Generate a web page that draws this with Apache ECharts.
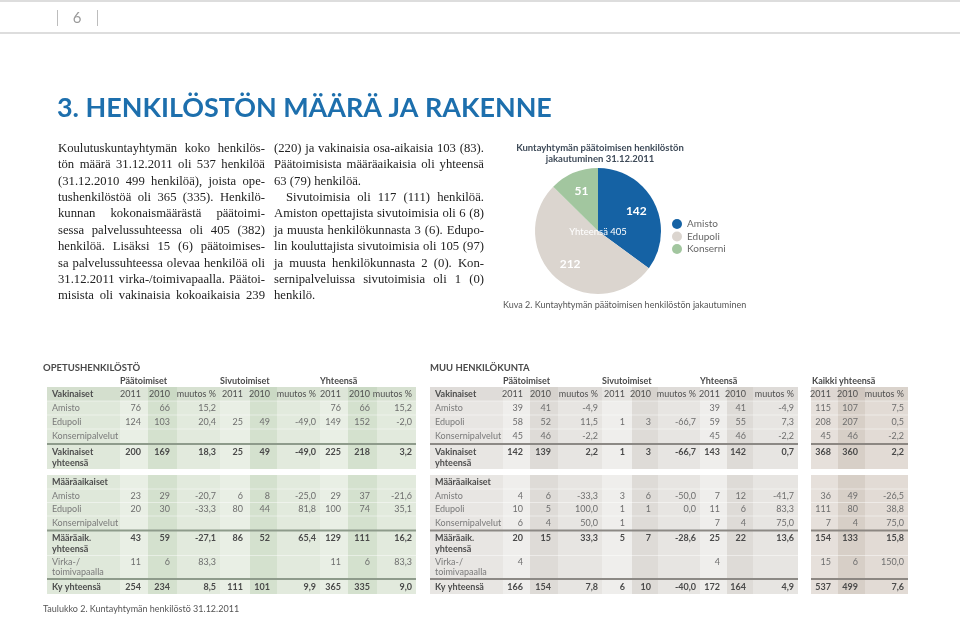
<!DOCTYPE html>
<html><head><meta charset="utf-8">
<script src="https://cdn.jsdelivr.net/npm/echarts@6/dist/echarts.min.js"></script>
<style>html,body{margin:0;padding:0;background:#fff}#c{width:960px;height:617px}</style>
</head><body><div id="c"></div>
<script>
// ---------- DATA ----------
const pieNames = ['Amisto', 'Edupoli', 'Konserni'];
const pieValues = [142, 212, 51];
const pieTotalText = 'Yhteensä 405';
const pieTitle = ['Kuntayhtymän päätoimisen henkilöstön', 'jakautuminen 31.12.2011'];
const pieCaption = 'Kuva 2. Kuntayhtymän päätoimisen henkilöstön jakautuminen';
const tableCaption = 'Taulukko 2. Kuntayhtymän henkilöstö 31.12.2011';
const pageTitle = '3. HENKILÖSTÖN MÄÄRÄ JA RAKENNE';
const pageNumber = '6';

const groupLabels = ['Päätoimiset', 'Sivutoimiset', 'Yhteensä'];
const allLabel = 'Kaikki yhteensä';
const yearHeader = ['2011', '2010', 'muutos %', '2011', '2010', 'muutos %', '2011', '2010', 'muutos %'];
const yearHeader3 = ['2011', '2010', 'muutos %'];

const opetusVak = [
  ['Vakinaiset'].concat(yearHeader),
  ['Amisto', '76', '66', '15,2', '', '', '', '76', '66', '15,2'],
  ['Edupoli', '124', '103', '20,4', '25', '49', '-49,0', '149', '152', '-2,0'],
  ['Konsernipalvelut', '', '', '', '', '', '', '', '', ''],
  ['Vakinaiset\nyhteensä', '200', '169', '18,3', '25', '49', '-49,0', '225', '218', '3,2']
];
const opetusMaara = [
  ['Määräaikaiset', '', '', '', '', '', '', '', '', ''],
  ['Amisto', '23', '29', '-20,7', '6', '8', '-25,0', '29', '37', '-21,6'],
  ['Edupoli', '20', '30', '-33,3', '80', '44', '81,8', '100', '74', '35,1'],
  ['Konsernipalvelut', '', '', '', '', '', '', '', '', ''],
  ['Määräaik.\nyhteensä', '43', '59', '-27,1', '86', '52', '65,4', '129', '111', '16,2'],
  ['Virka-/\ntoimivapaalla', '11', '6', '83,3', '', '', '', '11', '6', '83,3'],
  ['Ky yhteensä', '254', '234', '8,5', '111', '101', '9,9', '365', '335', '9,0']
];
const muuVak = [
  ['Vakinaiset'].concat(yearHeader),
  ['Amisto', '39', '41', '-4,9', '', '', '', '39', '41', '-4,9'],
  ['Edupoli', '58', '52', '11,5', '1', '3', '-66,7', '59', '55', '7,3'],
  ['Konsernipalvelut', '45', '46', '-2,2', '', '', '', '45', '46', '-2,2'],
  ['Vakinaiset\nyhteensä', '142', '139', '2,2', '1', '3', '-66,7', '143', '142', '0,7']
];
const muuMaara = [
  ['Määräaikaiset', '', '', '', '', '', '', '', '', ''],
  ['Amisto', '4', '6', '-33,3', '3', '6', '-50,0', '7', '12', '-41,7'],
  ['Edupoli', '10', '5', '100,0', '1', '1', '0,0', '11', '6', '83,3'],
  ['Konsernipalvelut', '6', '4', '50,0', '1', '', '', '7', '4', '75,0'],
  ['Määräaik.\nyhteensä', '20', '15', '33,3', '5', '7', '-28,6', '25', '22', '13,6'],
  ['Virka-/\ntoimivapaalla', '4', '', '', '', '', '', '4', '', ''],
  ['Ky yhteensä', '166', '154', '7,8', '6', '10', '-40,0', '172', '164', '4,9']
];
const kaikkiVak = [
  yearHeader3,
  ['115', '107', '7,5'],
  ['208', '207', '0,5'],
  ['45', '46', '-2,2'],
  ['368', '360', '2,2']
];
const kaikkiMaara = [
  ['', '', ''],
  ['36', '49', '-26,5'],
  ['111', '80', '38,8'],
  ['7', '4', '75,0'],
  ['154', '133', '15,8'],
  ['15', '6', '150,0'],
  ['537', '499', '7,6']
];

const bodyLeft = [
  {t: 'Koulutuskuntayhtymän koko henkilös-', j: true},
  {t: 'tön määrä 31.12.2011 oli 537 henkilöä', j: true},
  {t: '(31.12.2010 499 henkilöä), joista ope-', j: true},
  {t: 'tushenkilöstöä oli 365 (335). Henkilö-', j: true},
  {t: 'kunnan kokonaismäärästä päätoimi-', j: true},
  {t: 'sessa palvelussuhteessa oli 405 (382)', j: true},
  {t: 'henkilöä. Lisäksi 15 (6) päätoimises-', j: true},
  {t: 'sa palvelussuhteessa olevaa henkilöä oli', j: true},
  {t: '31.12.2011 virka-/toimivapaalla. Päätoi-', j: true},
  {t: 'misista oli vakinaisia kokoaikaisia 239', j: true}
];
const bodyRight = [
  {t: '(220) ja vakinaisia osa-aikaisia 103 (83).', j: true},
  {t: 'Päätoimisista määräaikaisia oli yhteensä', j: true},
  {t: '63 (79) henkilöä.', j: false},
  {t: 'Sivutoimisia oli 117 (111) henkilöä.', j: true, indent: 12},
  {t: 'Amiston opettajista sivutoimisia oli 6 (8)', j: true},
  {t: 'ja muusta henkilökunnasta 3 (6). Edupo-', j: true},
  {t: 'lin kouluttajista sivutoimisia oli 105 (97)', j: true},
  {t: 'ja muusta henkilökunnasta 2 (0). Kon-', j: true},
  {t: 'sernipalveluissa sivutoimisia oli 1 (0)', j: true},
  {t: 'henkilö.', j: false}
];

// ---------- HELPERS ----------
const ctx = document.createElement('canvas').getContext('2d');
function measure(t, font) { ctx.font = font; return ctx.measureText(t).width; }
const els = [];
function txt(x, y, text, font, fill, align, z) {
  els.push({type: 'text', x: x, y: y, silent: true, z: z || 10,
    style: {text: text, font: font, fill: fill, textAlign: align || 'left', textVerticalAlign: 'middle'}});
}
function rect(x, y, w, h, fill, z) {
  els.push({type: 'rect', silent: true, z: z || 1, shape: {x: x, y: y, width: w, height: h}, style: {fill: fill}});
}
function line(x1, y1, x2, y2, stroke, lw, z) {
  els.push({type: 'line', silent: true, z: z || 5, shape: {x1: x1, y1: y1, x2: x2, y2: y2}, style: {stroke: stroke, lineWidth: lw}});
}

// ---------- PAGE HEADER ----------
line(0, 1, 960, 1, '#d2d2d2', 1.5);
line(0, 33, 960, 33, '#d2d2d2', 1.5);
line(57.5, 10, 57.5, 26, '#bdbdbd', 1);
line(97.5, 10, 97.5, 26, '#bdbdbd', 1);
txt(77, 18.5, pageNumber, '15px Lato', '#9a9a9a', 'center');

// title: fit to width
(function () {
  const base = 29;
  const w = measure(pageTitle, 'bold ' + base + 'px Lato');
  const fs = Math.min(30, base * 495 / w);
  txt(57, 108, pageTitle, 'bold ' + fs.toFixed(2) + 'px Lato', '#1d6fad', 'left');
})();

// ---------- BODY TEXT ----------
(function () {
  const fam = '"Liberation Serif"';
  const colW = [207, 210];
  let fs = 13.5;
  [[bodyLeft, colW[0]], [bodyRight, colW[1]]].forEach(function (pair) {
    pair[0].forEach(function (ln) {
      if (!ln.j) return;
      const w = measure(ln.t, fs + 'px ' + fam) + (ln.indent || 0);
      if (w > pair[1]) fs = Math.min(fs, 13.5 * pair[1] / (w * 13.5 / fs) );
    });
  });
  fs = Math.floor(fs * 10) / 10;
  const font = fs + 'px ' + fam;
  function layoutColumn(lines, x0, w, y0, lh) {
    const sp = measure(' ', font);
    lines.forEach(function (ln, i) {
      const words = ln.t.split(' ');
      const ind = ln.indent || 0;
      const widths = words.map(function (wd) { return measure(wd, font); });
      const sum = widths.reduce(function (a, b) { return a + b; }, 0);
      const gap = (ln.j && words.length > 1) ? (w - ind - sum) / (words.length - 1) : sp;
      let x = x0 + ind;
      words.forEach(function (wd, k) {
        txt(x, y0 + i * lh, wd, font, '#222222', 'left');
        x += widths[k] + gap;
      });
    });
  }
  layoutColumn(bodyLeft, 58, colW[0], 148.5, 16.4);
  layoutColumn(bodyRight, 274, colW[1], 148.5, 16.4);
})();

// ---------- PIE TEXTS ----------
const pieCenter = [598, 231];
txt(600, 148, pieTitle[0], 'bold 9.5px Lato', '#3f4b59', 'center');
txt(600, 158.5, pieTitle[1], 'bold 9.5px Lato', '#3f4b59', 'center');
txt(503, 305, pieCaption, '9px Lato', '#555', 'left');
txt(pieCenter[0], pieCenter[1] + 1, pieTotalText, '9.5px Lato', '#ffffff', 'center', 20);

// ---------- TABLES ----------
const T1 = [47, 120, 148, 177, 220, 250, 277, 320, 348, 377, 416];
const T2 = [430, 503, 530, 558, 602, 632, 658, 700, 727, 753, 798];
const T3 = [811, 838, 865, 908];
const upperLayout = [[387, 401, [394]], [401, 415, [408]], [415, 429, [422]], [429, 443, [436]], [445, 469, [452, 463]]];
const upperSeps = [444];
const lowerLayout = [[475, 489, [482.5]], [489, 502.5, [496]], [502.5, 516, [509.5]], [516, 529.5, [523]],
  [531.5, 555.5, [538.5, 549.5]], [555.5, 578, [562, 572.5]], [580, 594, [587]]];
const lowerSeps = [530.5, 579];

const green = {lab: '#dfe8da', a: '#e9efe5', b: '#d4e1ce', c: '#e2eadd', head: 'rgba(120,150,110,0.10)', sep: '#8e9b8b'};
const grey = {lab: '#e8e6e3', a: '#efeeec', b: '#dedbd7', c: '#e7e5e2', head: 'rgba(110,100,90,0.07)', sep: '#8c8985'};
const beige = {lab: '#e4ded9', a: '#e6e0db', b: '#d7cfc7', c: '#e2dbd5', head: 'rgba(110,90,70,0.06)', sep: '#8c8782'};

const FN = '9px Lato', FB = 'bold 9px Lato';
function drawBlock(cols, pal, layout, seps, rows, hasLabel, boldRows, headerRow) {
  const top = layout[0][0], bot = layout[layout.length - 1][1];
  const fills = hasLabel ? [pal.lab] : [];
  const n = cols.length - 1 - (hasLabel ? 1 : 0);
  for (let k = 0; k < n; k++) fills.push([pal.a, pal.b, pal.c][k % 3]);
  for (let i = 0; i < cols.length - 1; i++) rect(cols[i], top, cols[i + 1] - cols[i], bot - top, fills[i], 1);
  if (headerRow) rect(cols[0], layout[0][0], cols[cols.length - 1] - cols[0], layout[0][1] - layout[0][0], pal.head, 2);
  for (let r = 1; r < layout.length; r++) {
    if (seps.some(function (s) { return Math.abs(s - layout[r][0]) < 3; })) continue;
    line(cols[0], layout[r][0], cols[cols.length - 1], layout[r][0], 'rgba(255,255,255,0.45)', 1, 3);
  }
  seps.forEach(function (y) { line(cols[0], y, cols[cols.length - 1], y, pal.sep, 2, 4); });
  rows.forEach(function (row, ri) {
    const lay = layout[ri];
    const bold = boldRows.indexOf(ri) >= 0;
    row.forEach(function (cell, ci) {
      if (!cell) return;
      const parts = cell.split('\n');
      parts.forEach(function (p, pi) {
        const y = lay[2][pi];
        if (hasLabel && ci === 0) {
          const lb = bold || ri === 0;
          txt(cols[0] + 5, y, p, lb ? FB : FN, lb ? '#4e4e4e' : '#7a7a7a', 'left');
        } else {
          const k = hasLabel ? ci - 1 : ci;
          const pad = (k % 3 === 2) ? 4 : 7;
          const isHead = headerRow && ri === 0;
          txt(cols[ci + 1] - pad, y, p, bold ? FB : FN, bold ? '#4a4a4a' : (isHead ? '#505050' : '#6e6e6e'), 'right');
        }
      });
    });
  });
}

// section headings
txt(43, 368, 'OPETUSHENKILÖSTÖ', 'bold 9.5px Lato', '#4a4a4a', 'left');
txt(430, 368, 'MUU HENKILÖKUNTA', 'bold 9.5px Lato', '#4a4a4a', 'left');
[T1, T2].forEach(function (c) {
  txt(c[1], 381, groupLabels[0], 'bold 9px Lato', '#4a4a4a', 'left');
  txt(c[4], 381, groupLabels[1], 'bold 9px Lato', '#4a4a4a', 'left');
  txt(c[7], 381, groupLabels[2], 'bold 9px Lato', '#4a4a4a', 'left');
});
txt(T3[0] + 1, 381, allLabel, 'bold 9px Lato', '#4a4a4a', 'left');

drawBlock(T1, green, upperLayout, upperSeps, opetusVak, true, [4], true);
drawBlock(T1, green, lowerLayout, lowerSeps, opetusMaara, true, [4, 6], false);
drawBlock(T2, grey, upperLayout, upperSeps, muuVak, true, [4], true);
drawBlock(T2, grey, lowerLayout, lowerSeps, muuMaara, true, [4, 6], false);
drawBlock(T3, beige, upperLayout, upperSeps, kaikkiVak, false, [4], true);
drawBlock(T3, beige, lowerLayout, lowerSeps, kaikkiMaara, false, [4, 6], false);

txt(43, 609, tableCaption, '9px Lato', '#555', 'left');

// ---------- CHART ----------
const pieColors = ['#1562a4', '#dbd5cf', '#a2c69f'];
const pieData = pieNames.map(function (n, i) { return {name: n, value: pieValues[i]}; });
const chart = echarts.init(document.getElementById('c'), null, {renderer: 'canvas'});
chart.setOption({
  animation: false,
  color: pieColors,
  legend: {
    orient: 'vertical', left: 667, top: 214, icon: 'circle', itemWidth: 10, itemHeight: 10, itemGap: 2.5,
    textStyle: {fontSize: 10, color: '#666', fontFamily: 'Lato'}, data: pieNames, selectedMode: false
  },
  series: [
    {type: 'pie', center: pieCenter, radius: 63, startAngle: 90, clockwise: true, silent: true,
      label: {show: false}, labelLine: {show: false}, itemStyle: {borderWidth: 0}, data: pieData, z: 2},
    {type: 'pie', center: pieCenter, radius: [17, 63], startAngle: 90, clockwise: true, silent: true,
      itemStyle: {color: 'rgba(0,0,0,0)', borderWidth: 0}, labelLine: {show: false},
      label: {show: true, position: 'inside', formatter: '{c}', color: '#fff', fontFamily: 'Lato', fontWeight: 'bold', fontSize: 12},
      data: pieData, z: 3}
  ],
  graphic: {elements: els}
});
</script></body></html>
